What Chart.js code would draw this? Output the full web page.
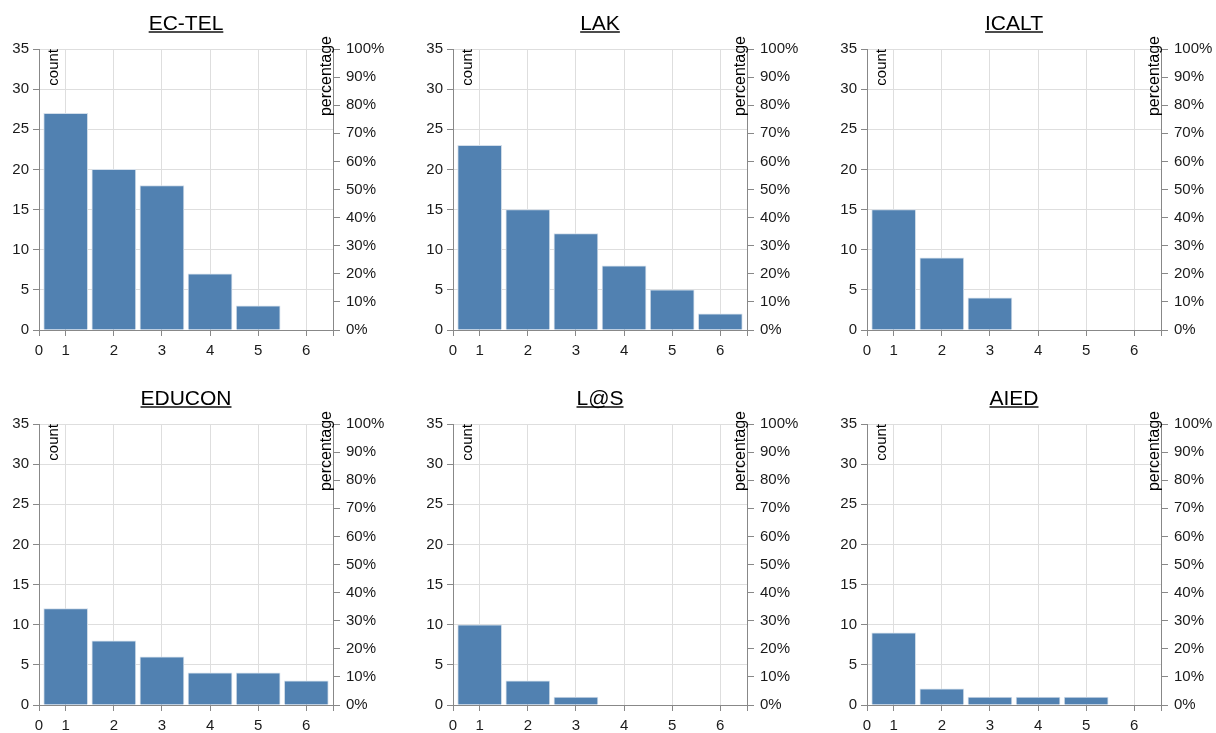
<!DOCTYPE html>
<html>
<head>
<meta charset="utf-8">
<script src="https://cdn.jsdelivr.net/npm/chart.js@4/dist/chart.umd.min.js"></script>
<style>
  body { margin: 0; background: #fff; width: 1216px; height: 733px; overflow: hidden; position: relative; }
  .panel { position: absolute; width: 414px; height: 358px; }
</style>
</head>
<body>
<div class="panel" style="left:0px;top:0px"><canvas id="c0"></canvas></div>
<div class="panel" style="left:414px;top:0px"><canvas id="c1"></canvas></div>
<div class="panel" style="left:828px;top:0px"><canvas id="c2"></canvas></div>
<div class="panel" style="left:0px;top:375px"><canvas id="c3"></canvas></div>
<div class="panel" style="left:414px;top:375px"><canvas id="c4"></canvas></div>
<div class="panel" style="left:828px;top:375px"><canvas id="c5"></canvas></div>
<script>
// categories on the x axis
const categories = [1, 2, 3, 4, 5, 6];
const titles = ["EC-TEL", "LAK", "ICALT", "EDUCON", "L@S", "AIED"];

// counts per venue (null = no bar)
const ecTel = [27, 20, 18, 7, 3, null];
const lak = [23, 15, 12, 8, 5, 2];
const icalt = [15, 9, 4, null, null, null];
const educon = [12, 8, 6, 4, 4, 3];
const las = [10, 3, 1, null, null, null];
const aied = [9, 2, 1, 1, 1, null];

const series = [ecTel, lak, icalt, educon, las, aied];

// axis ranges
const countMax = 35;
const countStep = 5;
const percentStep = 0.1;
const xMin = 0.445;
const xMax = 6.555;

const FONT = '"Liberation Sans", Arial, Helvetica, sans-serif';
Chart.defaults.font.family = FONT;
Chart.defaults.font.size = 15;
Chart.defaults.color = "#1a1a1a";

/////////---------TITLES & AXIS NAMES--------////////////////
const panelText = {
  id: "panelText",
  afterDraw(chart, args, opts) {
    const ctx = chart.ctx;
    const a = chart.chartArea;
    ctx.save();
    ctx.fillStyle = "#000";
    ctx.font = "21px " + FONT;
    ctx.textAlign = "center";
    ctx.textBaseline = "alphabetic";
    const cx = (a.left + a.right) / 2;
    ctx.fillText(opts.title, cx, 29.5);
    const w = ctx.measureText(opts.title).width;
    ctx.fillRect(cx - w / 2, 31.3, w, 1.4);

    ctx.font = "15px " + FONT;
    ctx.textAlign = "right";
    ctx.save();
    ctx.translate(a.left + 19, a.top);
    ctx.rotate(-Math.PI / 2);
    ctx.fillText("count", 0, 0);
    ctx.restore();

    ctx.save();
    ctx.translate(a.right - 2.5, a.top - 13);
    ctx.rotate(-Math.PI / 2);
    ctx.font = "16px " + FONT;
    ctx.fillText("percentage", 0, 0);
    ctx.restore();
    ctx.restore();
  },
};

function makeChart(i) {
  const vals = series[i];
  return new Chart(document.getElementById("c" + i), {
    type: "bar",
    data: {
      datasets: [
        {
          data: categories.map((c, k) => ({ x: c, y: vals[k] })),
          backgroundColor: "#5181b1",
          borderColor: "#d3deea",
          borderWidth: 1,
          borderSkipped: "bottom",
          barThickness: 44,
        },
      ],
    },
    options: {
      responsive: true,
      maintainAspectRatio: false,
      animation: false,
      layout: { padding: { top: 49 } },
      plugins: {
        legend: { display: false },
        tooltip: { enabled: false },
        panelText: { title: titles[i] },
      },
      scales: {
        x: {
          type: "linear",
          offset: false,
          min: xMin,
          max: xMax,
          afterBuildTicks: (scale) => {
            scale.ticks = [xMin].concat(categories, [xMax]).map((v) => ({ value: v }));
          },
          afterFit: (scale) => {
            scale.height = 28;
          },
          ticks: {
            maxRotation: 0,
            padding: 6,
            callback: (v) => (v === xMin ? "0" : v === xMax ? "" : String(v)),
          },
          grid: { offset: false, color: "#dedede", tickColor: "#888", tickLength: 6 },
          border: { color: "#888", width: 1 },
        },
        y: {
          position: "left",
          min: 0,
          max: countMax,
          afterFit: (scale) => {
            scale.width = 39;
          },
          ticks: { stepSize: countStep, padding: 4 },
          grid: { color: "#dedede", tickColor: "#888", tickLength: 6 },
          border: { color: "#888", width: 1 },
        },
        y1: {
          position: "right",
          min: 0,
          max: 1,
          afterFit: (scale) => {
            scale.width = 81;
          },
          ticks: {
            stepSize: percentStep,
            padding: 6,
            callback: (v) => Math.round(v * 100) + "%",
          },
          grid: { drawOnChartArea: false, tickColor: "#888", tickLength: 7 },
          border: { color: "#888", width: 1 },
        },
      },
    },
    plugins: [panelText],
  });
}

for (let i = 0; i < series.length; i++) {
  makeChart(i);
}
</script>
</body>
</html>
